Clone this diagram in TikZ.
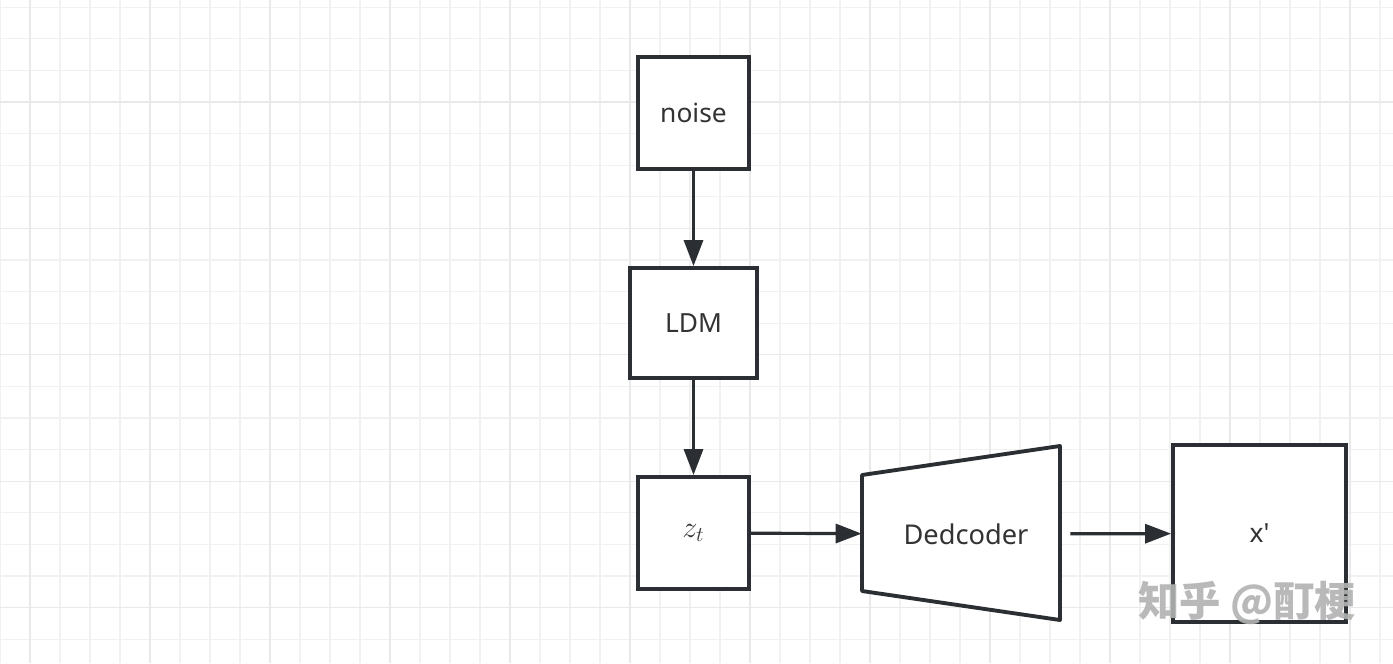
\documentclass[tikz,border=0pt]{standalone}
\usepackage{fontspec}
\setmainfont{Noto Sans}
\newfontfamily\cjk{Noto Sans CJK SC}
\usetikzlibrary{arrows.meta}

\definecolor{linecol}{HTML}{2B2E32}
\definecolor{textcol}{HTML}{333333}
\definecolor{gridminor}{HTML}{F1F1F1}
\definecolor{gridmajor}{HTML}{E9E9E9}

\tikzset{
  box/.style={draw=linecol, line width=2.2pt, fill=white, inner sep=0pt,
    text=textcol, font=\fontsize{15}{18}\selectfont},
  flow/.style={-{Triangle[length=0.52cm, width=0.38cm]}, draw=linecol,
    line width=1.8pt}
}

\begin{document}
\begin{tikzpicture}[x=0.02cm, y=-0.02cm]
\useasboundingbox[fill=white] (0,0) rectangle (1393,663);

% grid
\foreach \gx in {0,30,...,1380} \draw[gridminor, line width=0.7pt] (\gx,0) -- (\gx,663);
\foreach \gy in {7.2,38.8,...,660} \draw[gridminor, line width=0.7pt] (0,\gy) -- (1393,\gy);
\foreach \gx in {30,150,...,1380} \draw[gridmajor, line width=0.7pt] (\gx,0) -- (\gx,663);
\foreach \gy in {102,228.4,...,660} \draw[gridmajor, line width=0.7pt] (0,\gy) -- (1393,\gy);

\node[box, minimum width=2.22cm, minimum height=2.24cm] (noise) at (693.5,113) {noise};
\node[box, minimum width=2.54cm, minimum height=2.2cm] (ldm) at (693.5,323) {LDM};
\node[box, minimum width=2.22cm, minimum height=2.24cm] (zt) at (693.5,533)
  {\fontsize{18}{20}\selectfont$z_t$};

\draw[linecol, line width=2.2pt, fill=white, line join=round]
  (862,475) -- (1060,446) -- (1060,620) -- (862,591) -- cycle;
\node[inner sep=0pt, minimum width=4.16cm, minimum height=3.48cm, text=textcol,
  font=\fontsize{15.5}{18}\selectfont] (dec) at (966,534) {Dedcoder};

\node[box, minimum width=3.46cm, minimum height=3.54cm] (xp) at (1259.5,533.5) {x\textquotesingle};

\draw[flow] (noise) -- (ldm);
\draw[flow] (ldm) -- (zt);
\draw[flow] (zt) -- (dec);
\draw[flow] (dec) -- (xp);

% watermark
\node[text=gray!60, opacity=0.9, font=\cjk\fontsize{23.5}{26}\selectfont\bfseries] (mark) at (1247,603) {知乎 @酊梗};
\end{tikzpicture}
\end{document}
